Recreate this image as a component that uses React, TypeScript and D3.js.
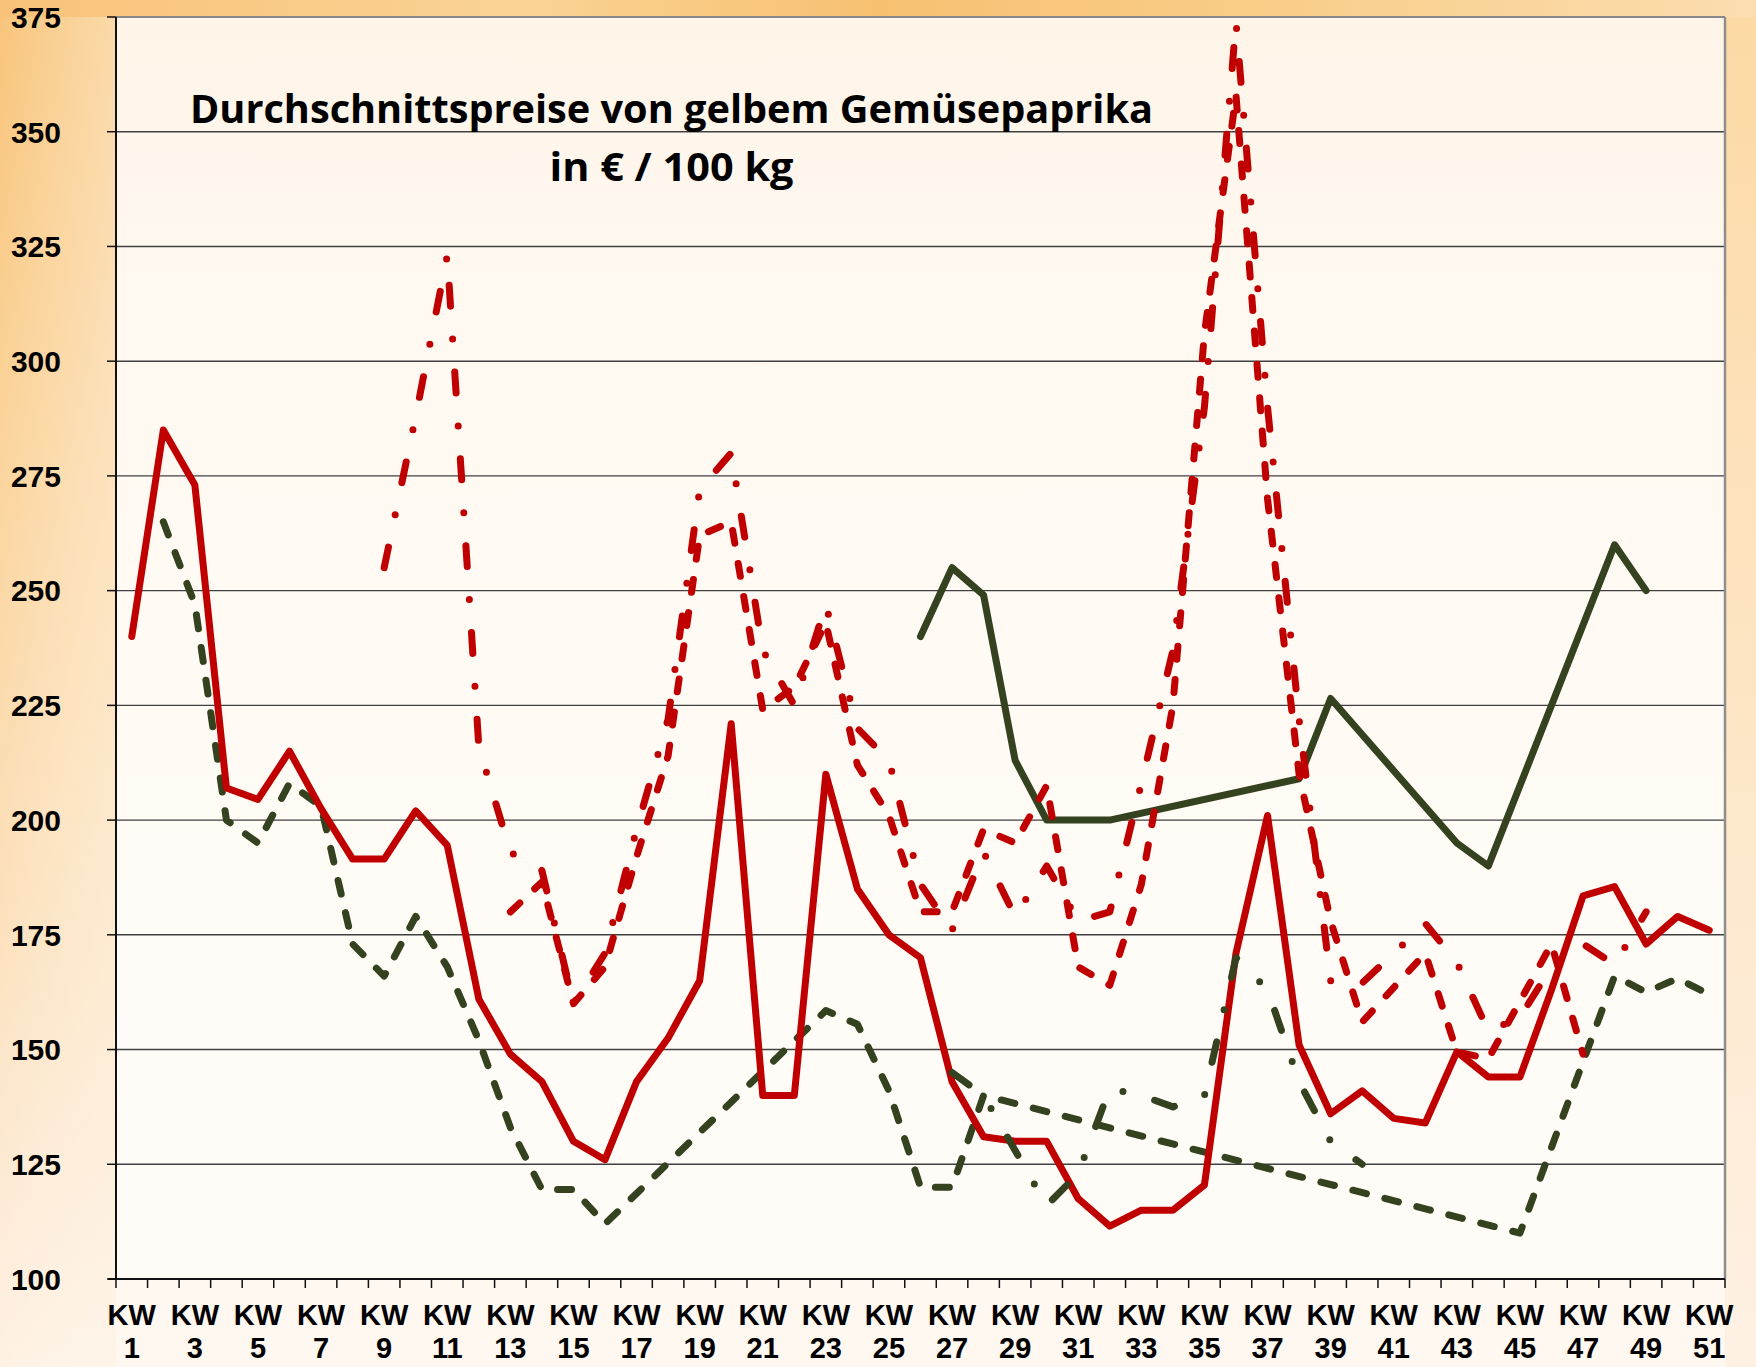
import React from "react";
import * as d3 from "d3";

// ---------- data ----------
const categories: string[] = Array.from({ length: 51 }, (_, i) => `KW ${i + 1}`);
const yTicks: number[] = [100, 125, 150, 175, 200, 225, 250, 275, 300, 325, 350, 375];

const titleLine1 = "Durchschnittspreise von gelbem Gemüsepaprika";
const titleLine2 = "in € / 100 kg";

// solid red
const solidRed: (number | null)[] = [
  240, 285, 273, 207, 204.5, 215, 202.5, 191.5, 191.5, 202, 194.5, 161, 149, 143, 130, 126, 143, 152.5, 165, 221,
  140, 140, 210, 185, 175, 170, 143, 131, 130, 130, 117.5, 111.5, 115, 115, 120.5, 171, 201, 151, 136, 141,
  135, 134, 149.5, 144, 144, 163, 183.5, 185.5, 173, 179, 176,
];

// dashed dark green
const dashedGreen: (number | null)[] = [
  null, 265, 247, 200, 195, 208, 203, 173, 166, 179, 168, 152, 133, 119.5, 119.5, 112, null, null, null, null,
  null, null, 158.5, 155.5, 141, 120, 120, 140, null, null, null, null, null, null, null, null, null, null, null, null,
  null, null, null, null, 110, null, null, 166, 162.5, 165.5, 162,
];

// solid dark green
const solidGreen: (number | null)[] = [
  null, null, null, null, null, null, null, null, null, null, null, null, null, null, null, null, null, null, null, null,
  null, null, null, null, null, 240, 255, 249, 213, 200, 200, 200, null, null, null, null, null, 209, 226.5, null,
  null, null, 195, 190, null, null, null, 260, 250, null, null,
];

// dash-dot dark green
const dashDotGreen: (number | null)[] = [
  null, null, null, null, null, null, null, null, null, null, null, null, null, null, null, null, null, null, null, null,
  null, null, null, null, null, null, 145, 140, 128, 116, 123, 141.5, 140, 137.5, 140, 170, 163, 143, 130, 125,
  null, null, null, null, null, null, null, null, null, null, null,
];

// dash-dot red
const dashDotRed: (number | null)[] = [
  null, null, null, null, null, null, null, null, 255, 288, 323, 216, 193, 189, 160, 171, 198, 222, 272, 280,
  237, 225, 247, 220, 213, 186, 176, 193, 179, 190, 178, 180, 208, 237, 290, 374, 290, 222, 165, 164.5,
  171, 177.5, 169, 154, 157, 168, 173, 168.5, 180, null, null,
];

// dashed red
const dashedRed: (number | null)[] = [
  null, null, null, null, null, null, null, null, null, null, null, null, 180, 186.5, 160, 168, 192, 214, 262, 265,
  224, 229, 243, 212, 201, 180, 180, 198, 195, 207.5, 168, 164, 186, 225, 306, 358, 270, 210, 178, 156,
  163.5, 171, 149.5, 148, 160.5, 173, 149, null, null, null, null,
];

// ---------- layout ----------
const W = 1756;
const H = 1367;
const PL = 116;
const PR = 1725;
const PT = 17;
const PB = 1279;

const RED = "#C00000";
const GREEN = "#35421F";
const SW = 7;

export default function App() {
  const x = d3.scaleBand<string>().domain(categories).range([PL, PR]).padding(0);
  const bw = x.bandwidth();
  const cx = (i: number) => (x(categories[i]) as number) + bw / 2;
  const y = d3.scaleLinear().domain([100, 375]).range([PB, PT]);

  const lineGen = d3
    .line<{ i: number; v: number }>()
    .x((d) => cx(d.i))
    .y((d) => y(d.v));
  const path = (vals: (number | null)[]) =>
    lineGen(
      vals
        .map((v, i) => ({ i, v: v as number }))
        .filter((d) => d.v !== null && d.v !== undefined)
    ) || "";

  const common = {
    fill: "none",
    strokeWidth: SW,
    strokeLinecap: "round" as const,
    strokeLinejoin: "round" as const,
  };

  return (
    <div style={{ position: "absolute", left: 0, top: 0 }}>
      <svg width={W} height={H} xmlns="http://www.w3.org/2000/svg" style={{ display: "block" }}>
        <defs>
          <linearGradient id="leftBg" x1="0" y1="0" x2="0" y2="1">
            <stop offset="0" stopColor="#F8C47A" />
            <stop offset="0.35" stopColor="#FBD59E" />
            <stop offset="0.7" stopColor="#FCE2C0" />
            <stop offset="1" stopColor="#FEF1E4" />
          </linearGradient>
          <linearGradient id="leftFade" x1="0" y1="0" x2="1" y2="0">
            <stop offset="0" stopColor="#FFFFFF" stopOpacity="0" />
            <stop offset="1" stopColor="#FFF8EE" stopOpacity="0.4" />
          </linearGradient>
          <linearGradient id="topBg" x1="0" y1="0" x2="1" y2="0">
            <stop offset="0" stopColor="#F8C27A" />
            <stop offset="0.3" stopColor="#FAD394" />
            <stop offset="0.5" stopColor="#F7C071" />
            <stop offset="0.75" stopColor="#F9CF8C" />
            <stop offset="1" stopColor="#FBDDB0" />
          </linearGradient>
          <linearGradient id="rightBg" x1="0" y1="0" x2="0" y2="1">
            <stop offset="0" stopColor="#FCD9A4" />
            <stop offset="0.5" stopColor="#FDE5C4" />
            <stop offset="1" stopColor="#FEF1E4" />
          </linearGradient>
          <linearGradient id="plotBg" x1="0" y1="0" x2="0" y2="1">
            <stop offset="0" stopColor="#FEF4E8" />
            <stop offset="0.25" stopColor="#FFF9F1" />
            <stop offset="1" stopColor="#FFFCF8" />
          </linearGradient>
        </defs>

        {/* background */}
        <rect x={0} y={0} width={W} height={H} fill="#FEF5EA" />
        <rect x={0} y={0} width={PL} height={H} fill="url(#leftBg)" />
        <rect x={0} y={0} width={PL} height={H} fill="url(#leftFade)" />
        <rect x={PR} y={0} width={W - PR} height={H} fill="url(#rightBg)" />
        <rect x={0} y={0} width={W} height={PT} fill="url(#topBg)" />
        <rect x={PL} y={PB} width={PR - PL} height={H - PB} fill="#FEF8F0" />
        <rect x={PL} y={PT} width={PR - PL} height={PB - PT} fill="url(#plotBg)" />

        {/* gridlines */}
        {yTicks
          .filter((t) => t !== 100)
          .map((t) => (
            <line
              key={`g${t}`}
              x1={PL}
              x2={PR}
              y1={y(t)}
              y2={y(t)}
              stroke={t === 375 ? "#888888" : "#404040"}
              strokeWidth={t === 375 ? 2.2 : 1.4}
            />
          ))}
        <line x1={PR} x2={PR} y1={PT} y2={PB} stroke="#8E8E8E" strokeWidth={2.5} />

        {/* axes */}
        <line x1={PL} x2={PL} y1={PT} y2={PB + 1} stroke="#111" strokeWidth={2} />
        <line x1={PL - 8} x2={PR} y1={PB} y2={PB} stroke="#111" strokeWidth={2} />
        {yTicks.map((t) => (
          <line key={`yt${t}`} x1={PL - 9} x2={PL} y1={y(t)} y2={y(t)} stroke="#111" strokeWidth={1.5} />
        ))}
        {d3.range(categories.length + 1).map((i) => (
          <line
            key={`xt${i}`}
            x1={PL + i * bw}
            x2={PL + i * bw}
            y1={PB}
            y2={PB + 9}
            stroke="#111"
            strokeWidth={1.5}
          />
        ))}

        {/* y labels */}
        {yTicks.map((t) => (
          <text
            key={`yl${t}`}
            x={61}
            y={y(t)}
            dy="0.36em"
            textAnchor="end"
            fontFamily="'Liberation Sans', Arial, sans-serif"
            fontWeight="bold"
            fontSize={30}
            fill="#000"
          >
            {t}
          </text>
        ))}

        {/* x labels */}
        {categories.map((c, i) =>
          i % 2 === 0 ? (
            <text
              key={`xl${i}`}
              x={cx(i)}
              textAnchor="middle"
              fontFamily="'Liberation Sans', Arial, sans-serif"
              fontWeight="bold"
              fontSize={29}
              fill="#000"
            >
              <tspan x={cx(i)} y={1325}>
                {c.split(" ")[0]}
              </tspan>
              <tspan x={cx(i)} y={1358}>
                {c.split(" ")[1]}
              </tspan>
            </text>
          ) : null
        )}

        {/* series */}
        <path d={path(dashedGreen)} stroke={GREEN} strokeDasharray="14 19" {...common} />
        <path d={path(solidGreen)} stroke={GREEN} {...common} />
        <path d={path(solidRed)} stroke={RED} {...common} />
        <path d={path(dashedRed)} stroke={RED} strokeDasharray="13 20.5" {...common} />
        <path d={path(dashDotRed)} stroke={RED} strokeDasharray="21 33 0 33" {...common} />
        <path d={path(dashDotGreen)} stroke={GREEN} strokeDasharray="21 33 0 33" {...common} />

        {/* title */}
        <text
          x={671.5}
          y={123}
          textAnchor="middle"
          fontFamily="'Open Sans', 'Noto Sans', sans-serif"
          fontWeight="bold"
          fontSize={40}
          textLength={963}
          lengthAdjust="spacingAndGlyphs"
          fill="#000"
        >
          {titleLine1}
        </text>
        <text
          x={671.5}
          y={181}
          textAnchor="middle"
          fontFamily="'Open Sans', 'Noto Sans', sans-serif"
          fontWeight="bold"
          fontSize={40}
          textLength={244}
          lengthAdjust="spacingAndGlyphs"
          fill="#000"
        >
          {titleLine2}
        </text>
      </svg>
    </div>
  );
}
